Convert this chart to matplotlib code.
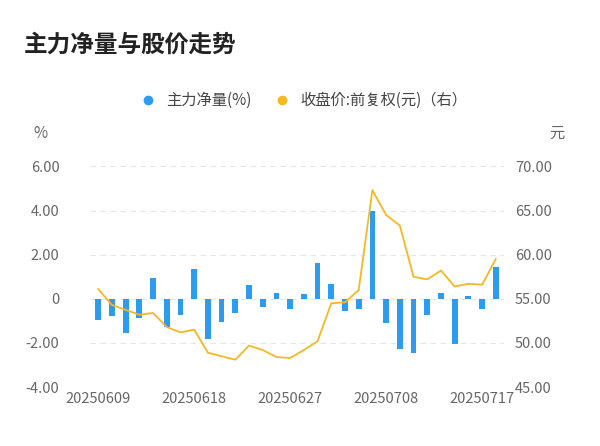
import matplotlib
matplotlib.use("Agg")
import matplotlib.pyplot as plt
from matplotlib.lines import Line2D

plt.rcParams['font.family'] = ['Noto Sans CJK JP', 'Noto Sans CJK SC', 'Noto Sans CJK TC', 'DejaVu Sans']

dates = ["20250609","20250610","20250611","20250612","20250613","20250616","20250617","20250618",
         "20250619","20250620","20250623","20250624","20250625","20250626","20250627","20250630",
         "20250701","20250702","20250703","20250704","20250707","20250708","20250709","20250710",
         "20250711","20250714","20250715","20250716","20250717","20250718"]
flow = [-0.98,-0.76,-1.55,-0.88,0.95,-1.26,-0.74,1.36,-1.82,-1.06,-0.65,0.64,-0.36,0.26,-0.48,
        0.21,1.62,0.65,-0.53,-0.48,4.0,-1.08,-2.27,-2.47,-0.73,0.26,-2.06,0.14,-0.47,1.44]
price = [56.1,54.3,53.75,53.2,53.4,51.8,51.2,51.5,48.9,48.5,48.1,49.7,49.2,48.4,48.3,49.2,50.2,
         54.5,54.6,56.0,67.3,64.5,63.3,57.5,57.2,58.2,56.4,56.7,56.6,59.5]
tick_idx = [0,7,14,21,28]
tick_labels = ["20250609","20250618","20250627","20250708","20250717"]

fig = plt.figure(figsize=(6,4.46), dpi=100)
ax = fig.add_axes([0.15, 0.132, 0.69, 0.495])
x = list(range(len(flow)))
ax.bar(x, flow, width=0.42, color='#2b9cf0', zorder=3)
ax.set_ylim(-4, 6)
ax.set_yticks([-4,-2,0,2,4,6])
ax.set_yticklabels(["-4.00","-2.00","0","2.00","4.00","6.00"])
ax.set_xlim(-0.6, len(flow)-0.4)
ax.set_xticks(tick_idx)
ax.set_xticklabels(tick_labels)
ax.grid(axis='y', color='#e6e6e6', linestyle=(0,(5,4)), linewidth=0.8)
for s in ax.spines.values(): s.set_visible(False)
ax.tick_params(length=0, colors='#666666', labelsize=10.5)
ax.tick_params(axis='y', pad=22)
ax2 = ax.twinx()
ax2.plot(x, price, color='#f5b822', linewidth=1.3, zorder=4)
ax2.set_ylim(45, 70)
ax2.set_yticks([45,50,55,60,65,70])
ax2.set_yticklabels(["45.00","50.00","55.00","60.00","65.00","70.00"])
for s in ax2.spines.values(): s.set_visible(False)
ax2.tick_params(length=0, colors='#666666', labelsize=10.5, pad=8)

fig.text(0.04, 0.885, "主力净量与股价走势", fontsize=17, fontweight='bold', color='#222222')
fig.text(0.055, 0.69, "%", fontsize=11, color='#666666')
fig.text(0.915, 0.69, "元", fontsize=11, color='#666666')
handles = [Line2D([],[],marker='o',color='#2b9cf0',linestyle='',markersize=6),
           Line2D([],[],marker='o',color='#f5b822',linestyle='',markersize=6)]
fig.legend(handles, ["主力净量(%)","收盘价:前复权(元)（右）"], loc='center', bbox_to_anchor=(0.5,0.775),
           ncol=2, frameon=False, fontsize=11, handletextpad=0.2, columnspacing=1.0, labelcolor='#444444')
fig.savefig("out.png", dpi=100)
